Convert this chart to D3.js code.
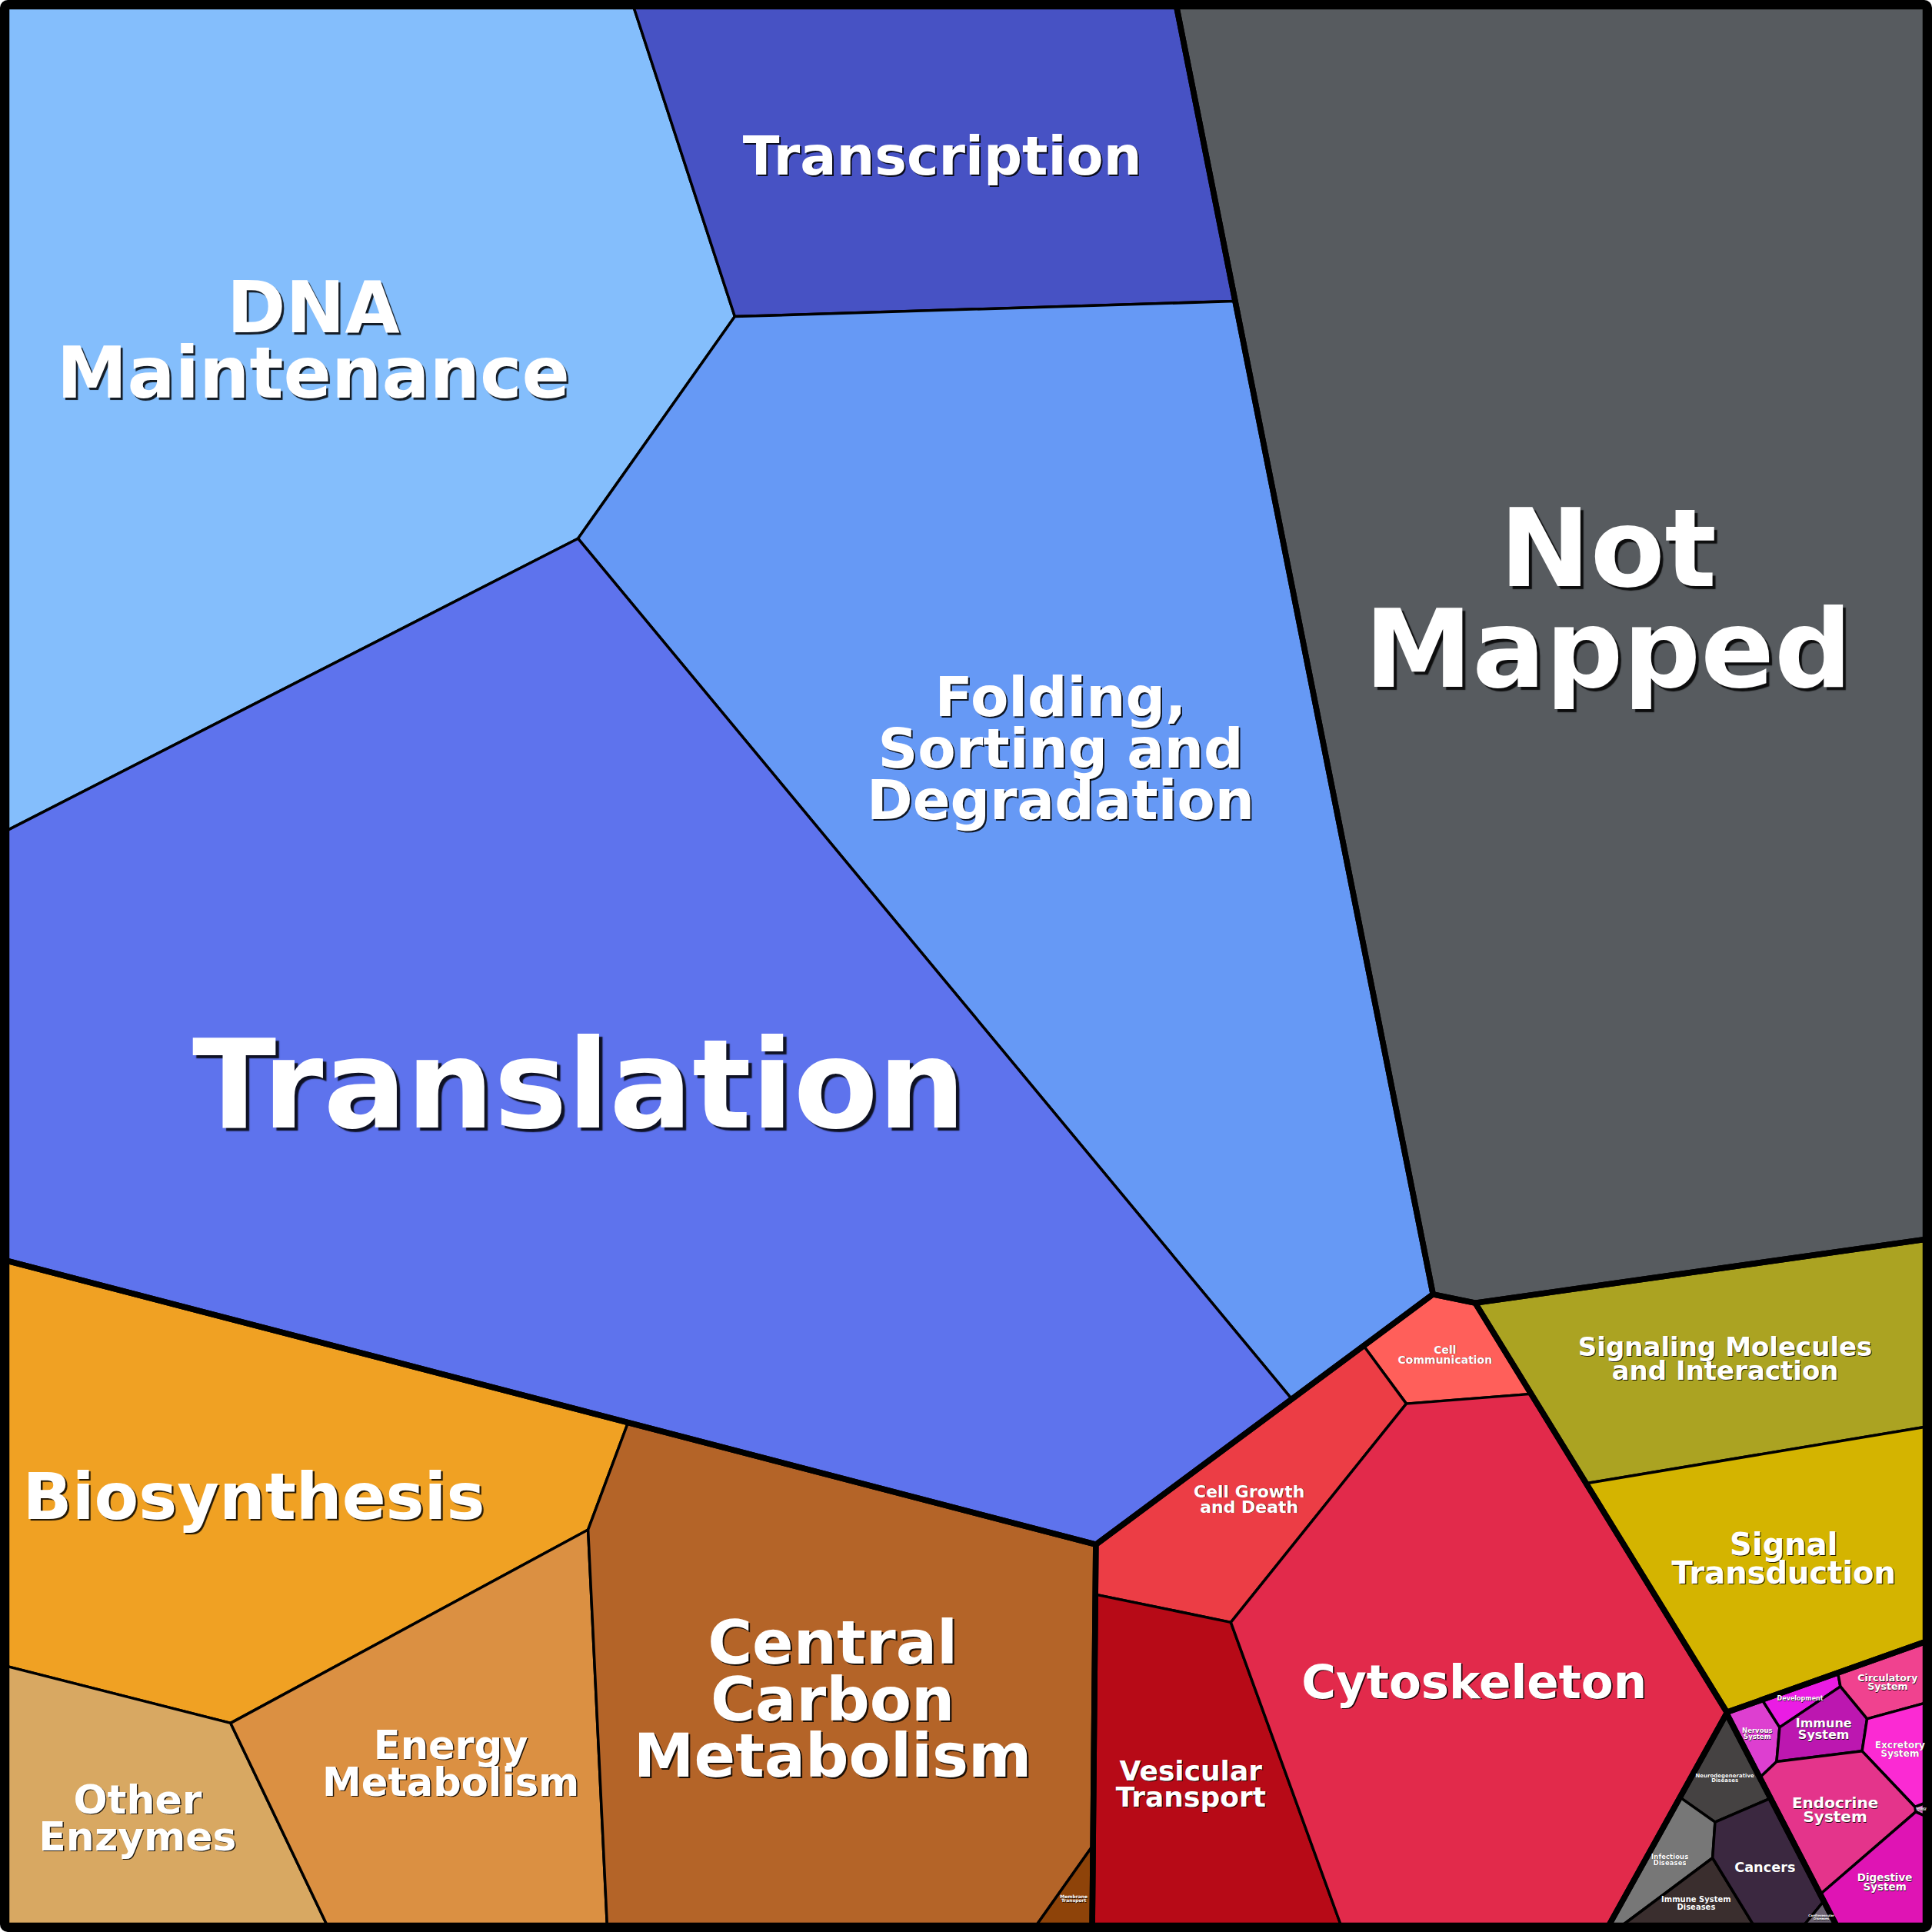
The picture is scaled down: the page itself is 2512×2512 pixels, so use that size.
<!DOCTYPE html>
<html><head><meta charset="utf-8">
<script src="https://cdn.jsdelivr.net/npm/d3@7"></script>
<style>
html,body{margin:0;padding:0;background:#fff}
#wrap{position:relative;width:2512px;height:2512px}
svg{display:block;position:absolute;left:0;top:0}
.lbl{position:absolute;transform:translate(-50%,-50%);white-space:pre;text-align:center;
  font-family:'DejaVu Sans',Verdana,sans-serif;font-weight:bold;color:#fff;line-height:0.93}
</style>
</head><body>
<div id="wrap"><svg id="chart" width="2512" height="2512"></svg></div>
<script>
// ---------------- data ----------------
const groups = ["Genetic Information Processing","Not Mapped","Metabolism","Cellular Processes",
  "Environmental Information Processing","Organismal Systems","Human Diseases"];

const categories = ["DNA Maintenance","Transcription","Folding, Sorting and Degradation","Translation",
  "Not Mapped","Biosynthesis","Other Enzymes","Energy Metabolism","Central Carbon Metabolism",
  "Membrane Transport","Cell Communication","Cell Growth and Death","Vesicular Transport","Cytoskeleton",
  "Signaling Molecules and Interaction","Signal Transduction","Nervous System","Development",
  "Circulatory System","Immune System","Excretory System","Sensory System","Endocrine System",
  "Digestive System","Neurodegenerative Diseases","Infectious Diseases","Immune System Diseases",
  "Cancers","Cardiovascular Diseases"];

const categoryGroup = [0,0,0,0,1,2,2,2,2,2,3,3,3,3,4,4,5,5,5,5,5,5,5,5,6,6,6,6,6];

// share of the proteome (%)
const values = [11.89,4.30,13.64,19.92,21.43,5.06,1.67,2.74,5.92,0.061,0.312,1.004,1.634,4.936,
  2.063,1.742,0.0642,0.0475,0.1195,0.1185,0.1214,0.0025,0.3419,0.2102,0.1338,0.1454,0.1206,0.2446,0.0108];

const labelLines = ["DNA\nMaintenance","Transcription","Folding,\nSorting and\nDegradation","Translation",
  "Not\nMapped","Biosynthesis","Other\nEnzymes","Energy\nMetabolism","Central\nCarbon\nMetabolism",
  "Membrane\nTransport","Cell\nCommunication","Cell Growth\nand Death","Vesicular\nTransport","Cytoskeleton",
  "Signaling Molecules\nand Interaction","Signal\nTransduction","Nervous\nSystem","Development",
  "Circulatory\nSystem","Immune\nSystem","Excretory\nSystem","Sensory\nSystem","Endocrine\nSystem",
  "Digestive\nSystem","Neurodegenerative\nDiseases","Infectious\nDiseases","Immune System\nDiseases",
  "Cancers","Cardiovascular\nDiseases"];

// ---------------- layout seeds (unit square) & styles ----------------
const groupSeeds = [[0.3662,0.3912],[0.8346,0.2979],[0.2439,0.8604],[0.7178,0.8649],
  [0.8990,0.7535],[0.9611,0.9283],[0.8943,0.9629]];
const categorySeeds = [[0.1403,0.1641],[0.4987,0.0470],[0.5103,0.4254],[0.3443,0.5631],[0.8346,0.2979],
  [0.1216,0.7606],[0.0701,0.9633],[0.1982,0.9022],[0.4665,0.8893],[0.5502,0.9485],[0.7504,0.7021],
  [0.6467,0.7786],[0.6163,0.9262],[0.7638,0.8726],[0.9028,0.7056],[0.9202,0.8102],[0.9116,0.9004],
  [0.9349,0.8856],[0.9779,0.8779],[0.9469,0.9035],[0.9866,0.9096],[0.9975,0.9369],[0.9517,0.9427],
  [0.9806,0.9762],[0.8948,0.9274],[0.8663,0.9678],[0.8828,0.9899],[0.9136,0.9711],[0.9443,0.9963]];
const colors = ["#84befc","#4752c4","#6699f5","#5e73ed","#575b5f","#f0a123","#d8a862","#db9042","#b46428",
  "#8e4309","#ff5f5a","#ec3d45","#b70a17","#e22a4b","#aba322","#d4b400","#dd3fd0","#ea1ce4","#f0428f",
  "#bc17b0","#fb2ad3","#e070c8","#e4348b","#df14b4","#454242","#777777","#3a2e2e","#3b2840","#6a6070"];
const labelSizes = [92,70,72,160,141,84,52,51,79,6,14,22,36,61,34,40,8.5,8,12.6,16,12,3,20,13.5,7,8.6,10,17.7,4];

// ---------------- power-diagram voronoi treemap ----------------
const W = 2512, H = 2512, X0 = 8.5, X1 = 2503.5;
const pos = d3.scaleLinear().domain([0,1]).range([X0,X1]);
const clipSquare = [[X0,X0],[X1,X0],[X1,X1],[X0,X1]];

function clipHP(poly, labs, a, b, c, lab){
  const out=[], ol=[], n=poly.length;
  for(let k=0;k<n;k++){
    const P=poly[k], Q=poly[(k+1)%n], L=labs[k];
    const fp=a*P[0]+b*P[1]-c, fq=a*Q[0]+b*Q[1]-c;
    if(fp<=0){
      out.push(P); ol.push(L);
      if(fq>0){ const t=fp/(fp-fq); out.push([P[0]+t*(Q[0]-P[0]),P[1]+t*(Q[1]-P[1])]); ol.push(lab); }
    } else if(fq<=0){
      const t=fp/(fp-fq); out.push([P[0]+t*(Q[0]-P[0]),P[1]+t*(Q[1]-P[1])]); ol.push(L);
    }
  }
  return [out, ol];
}
function powerCells(sites, clipPoly){
  return sites.map((s,i)=>{
    let poly=clipPoly.slice(), labs=poly.map(()=>-1);
    for(let j=0;j<sites.length;j++){
      if(j===i) continue;
      const t=sites[j];
      const a=2*(t.x-s.x), b=2*(t.y-s.y);
      const c=(t.x*t.x+t.y*t.y-t.w)-(s.x*s.x+s.y*s.y-s.w);
      [poly,labs]=clipHP(poly,labs,a,b,c,j);
      if(poly.length<3){poly=[];labs=[];break;}
    }
    return {poly,labs};
  });
}
function fitWeights(sites, clipPoly, targets, iters){
  if(sites.length<2) return;
  for(let it=0;it<iters;it++){
    const cells=powerCells(sites,clipPoly);
    const dw=sites.map((s,i)=>{
      const {poly,labs}=cells[i];
      const A=poly.length?Math.abs(d3.polygonArea(poly)):0;
      let D=0;
      for(let k=0;k<poly.length;k++){
        const j=labs[k]; if(j<0) continue;
        const P=poly[k],Q=poly[(k+1)%poly.length];
        D+=Math.hypot(Q[0]-P[0],Q[1]-P[1])/(2*Math.hypot(sites[j].x-s.x,sites[j].y-s.y));
      }
      if(A===0||D===0){
        let dmin=Infinity;
        sites.forEach((t,j)=>{ if(j!==i) dmin=Math.min(dmin,Math.hypot(t.x-s.x,t.y-s.y)); });
        return 0.05*dmin*dmin;
      }
      let delta=(targets[i]-A)/D;
      delta=Math.max(delta,-0.5*A/D);
      return 0.6*delta;
    });
    sites.forEach((s,i)=>{s.w+=dw[i];});
  }
}

// top level
const groupValue = groups.map((g,gi)=>d3.sum(values.filter((v,i)=>categoryGroup[i]===gi)));
const totalValue = d3.sum(groupValue);
const clipArea = Math.abs(d3.polygonArea(clipSquare));
const gSites = groupSeeds.map(s=>({x:pos(s[0]),y:pos(s[1]),w:0}));
fitWeights(gSites, clipSquare, groupValue.map(v=>v/totalValue*clipArea), 800);
const gCells = powerCells(gSites, clipSquare).map(c=>c.poly);

// second level
const catPoly = new Array(categories.length);
groups.forEach((g,gi)=>{
  const idx = categories.map((c,i)=>i).filter(i=>categoryGroup[i]===gi);
  const poly = gCells[gi];
  if(idx.length===1){ catPoly[idx[0]]=poly; return; }
  const A = Math.abs(d3.polygonArea(poly));
  const sites = idx.map(i=>({x:pos(categorySeeds[i][0]),y:pos(categorySeeds[i][1]),w:0}));
  fitWeights(sites, poly, idx.map(i=>values[i]/groupValue[gi]*A), 1000);
  const cells = powerCells(sites, poly);
  idx.forEach((i,k)=>{catPoly[i]=cells[k].poly;});
});

// ---------------- drawing ----------------
const svg = d3.select("#chart");
svg.append("rect").attr("width",W).attr("height",H).attr("rx",10).attr("fill","#000");

const line = p => p && p.length>2 ? "M"+p.map(q=>q[0].toFixed(2)+","+q[1].toFixed(2)).join("L")+"Z" : "";
svg.append("g").selectAll("path").data(categories).join("path")
  .attr("d",(c,i)=>line(catPoly[i]))
  .attr("fill",(c,i)=>colors[i])
  .attr("stroke","#000").attr("stroke-width",3.5).attr("stroke-linejoin","round");
svg.append("g").selectAll("path").data(groups).join("path")
  .attr("d",(g,i)=>line(gCells[i]))
  .attr("fill","none").attr("stroke","#000").attr("stroke-width",7.5).attr("stroke-linejoin","round");

// labels: one text block per cell, centred on the cell centroid
const wrap = d3.select("#wrap");
categories.forEach((c,i)=>{
  const poly = catPoly[i]; if(!poly||poly.length<3) return;
  const [cx,cy] = d3.polygonCentroid(poly);
  const fs = labelSizes[i];
  const off = Math.max(0.4, fs*0.028).toFixed(2);
  wrap.append("div").attr("class","lbl")
    .style("left",cx.toFixed(1)+"px").style("top",(cy+fs*0.015).toFixed(1)+"px")
    .style("font-size",fs+"px")
    .style("text-shadow",`${off}px ${off}px ${(off*0.3).toFixed(2)}px rgba(0,0,0,0.85)`)
    .text(labelLines[i]);
});
</script>
</body></html>
